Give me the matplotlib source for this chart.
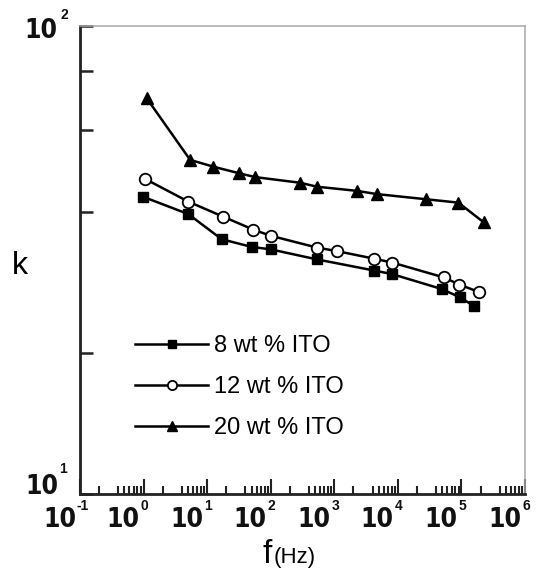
import matplotlib
matplotlib.use("Agg")
import matplotlib.pyplot as plt
from matplotlib import font_manager
from matplotlib.ticker import LogLocator, NullFormatter, FixedLocator

# ---------------- data ----------------
f_8 = [0.99, 5.06, 16.9, 50, 100, 529, 4266, 8000, 48900, 95000, 158000]
k_8 = [43.1, 39.6, 35.0, 33.7, 33.3, 31.7, 30.0, 29.5, 27.4, 26.3, 25.2]

f_12 = [1.05, 5.06, 17.9, 53, 100, 529, 1116, 4266, 8180, 53200, 92700, 189000]
k_12 = [47.1, 42.1, 39.1, 36.7, 35.6, 33.6, 33.0, 31.8, 31.2, 29.0, 28.0, 27.0]

f_20 = [1.12, 5.4, 12.5, 32, 57, 289, 541, 2254, 4650, 27700, 89300, 226000]
k_20 = [70.0, 51.7, 50.0, 48.4, 47.5, 46.2, 45.3, 44.4, 43.7, 42.6, 41.9, 38.0]

labels = ["8 wt % ITO", "12 wt % ITO", "20 wt % ITO"]
x_exponents = [-1, 0, 1, 2, 3, 4, 5, 6]
y_exponents = [1, 2]
y_ticks = [10, 20, 40, 60, 80, 100]

# ---------------- fonts ----------------
plain = "Liberation Sans"
cond = None
for fe in font_manager.fontManager.ttflist:
    if fe.name in ("Liberation Sans Narrow", "DejaVu Sans Condensed") or \
       (fe.name == "DejaVu Sans" and str(fe.stretch) in ("condensed", "semi-condensed")):
        cond = fe
        break
if cond is not None:
    big_font = dict(fontproperties=font_manager.FontProperties(fname=cond.fname, size=19))
else:
    big_font = dict(fontfamily=plain, fontweight="bold", fontsize=17)

W, H = 539, 572
fig = plt.figure(figsize=(W / 100, H / 100), dpi=100)
L, R, T, B = 80, 525, 25.7, 494
ax = fig.add_axes([L / W, 1 - B / H, (R - L) / W, (B - T) / H])

ax.set_xscale("log")
ax.set_yscale("log")
ax.set_xlim(0.1, 1e6)
ax.set_ylim(10, 100)

lw = 1.8
ax.plot(f_8, k_8, color="black", lw=lw, marker="s", ms=6.5, mfc="black", mec="black", label=labels[0])
ax.plot(f_12, k_12, color="black", lw=lw, marker="o", ms=8.3, mfc="white", mec="black", mew=1.3, label=labels[1])
ax.plot(f_20, k_20, color="black", lw=lw, marker="^", ms=8.5, mfc="black", mec="black", label=labels[2])

# spines
for s in ["left", "bottom"]:
    ax.spines[s].set_linewidth(2.0)
    ax.spines[s].set_color("#222222")
for s in ["top", "right"]:
    ax.spines[s].set_linewidth(1.1)
    ax.spines[s].set_color("#a8a8a8")

# ticks
ax.xaxis.set_major_locator(FixedLocator([10.0 ** e for e in x_exponents]))
ax.xaxis.set_minor_locator(LogLocator(base=10, subs=[2, 4, 5, 6, 7, 8, 9]))
ax.xaxis.set_major_formatter(NullFormatter())
ax.xaxis.set_minor_formatter(NullFormatter())
ax.yaxis.set_major_locator(FixedLocator(y_ticks))
ax.yaxis.set_minor_locator(FixedLocator([]))
ax.yaxis.set_major_formatter(NullFormatter())
ax.yaxis.set_minor_formatter(NullFormatter())
ax.tick_params(axis="x", which="major", direction="in", length=11, width=1.5, color="#222222")
ax.tick_params(axis="x", which="minor", direction="in", length=5.8, width=1.5, color="#222222")
ax.tick_params(axis="y", which="major", direction="in", length=9.4, width=1.8, color="#222222")

exp_kw = dict(fontfamily=plain, fontweight="bold", fontsize=10, color="#111111",
              textcoords="offset pixels", annotation_clip=False)
base_kw = dict(color="#111111", textcoords="offset pixels", annotation_clip=False, **big_font)

# x tick labels (10 + superscript)
for e in x_exponents:
    ax.annotate("10", xy=(10.0 ** e, 0), xycoords=("data", "axes fraction"),
                xytext=(-4, -13), ha="right", va="top", **base_kw)
    if e < 0:
        ax.annotate(str(e), xy=(10.0 ** e, 0), xycoords=("data", "axes fraction"),
                    xytext=(-3, -12), ha="left", va="center", **exp_kw)
    else:
        ax.annotate(str(e), xy=(10.0 ** e, 0), xycoords=("data", "axes fraction"),
                    xytext=(1, -12), ha="center", va="center", **exp_kw)

# y tick labels
ypos = {2: ((-23, -5), (-16, 11)), 1: ((-22, 7), (-17, 25))}
for e in y_exponents:
    (dx1, dy1), (dx2, dy2) = ypos[e]
    ax.annotate("10", xy=(0, 10.0 ** e), xycoords=("axes fraction", "data"),
                xytext=(dx1, dy1), ha="right", va="center", **base_kw)
    ax.annotate(str(e), xy=(0, 10.0 ** e), xycoords=("axes fraction", "data"),
                xytext=(dx2, dy2), ha="center", va="center", **exp_kw)

# axis labels
fig.text(20 / W, 1 - 266 / H, "k", fontfamily=plain, fontsize=23, ha="center", va="center")
fig.text(272 / W, 1 - 563 / H, "f", fontfamily=plain, fontsize=24, ha="right", va="baseline")
fig.text(274 / W, 1 - 563 / H, "(Hz)", fontfamily=plain, fontsize=16, ha="left", va="baseline")

# legend
leg = ax.legend(loc="upper left", bbox_to_anchor=(135 / W, 1 - 335 / H), bbox_transform=fig.transFigure,
                frameon=False, prop={"family": plain, "size": 17}, handlelength=3.1,
                handletextpad=0.25, labelspacing=0.8, borderpad=0, borderaxespad=0,
                markerscale=0.8)

fig.savefig("out.png", dpi=100)
